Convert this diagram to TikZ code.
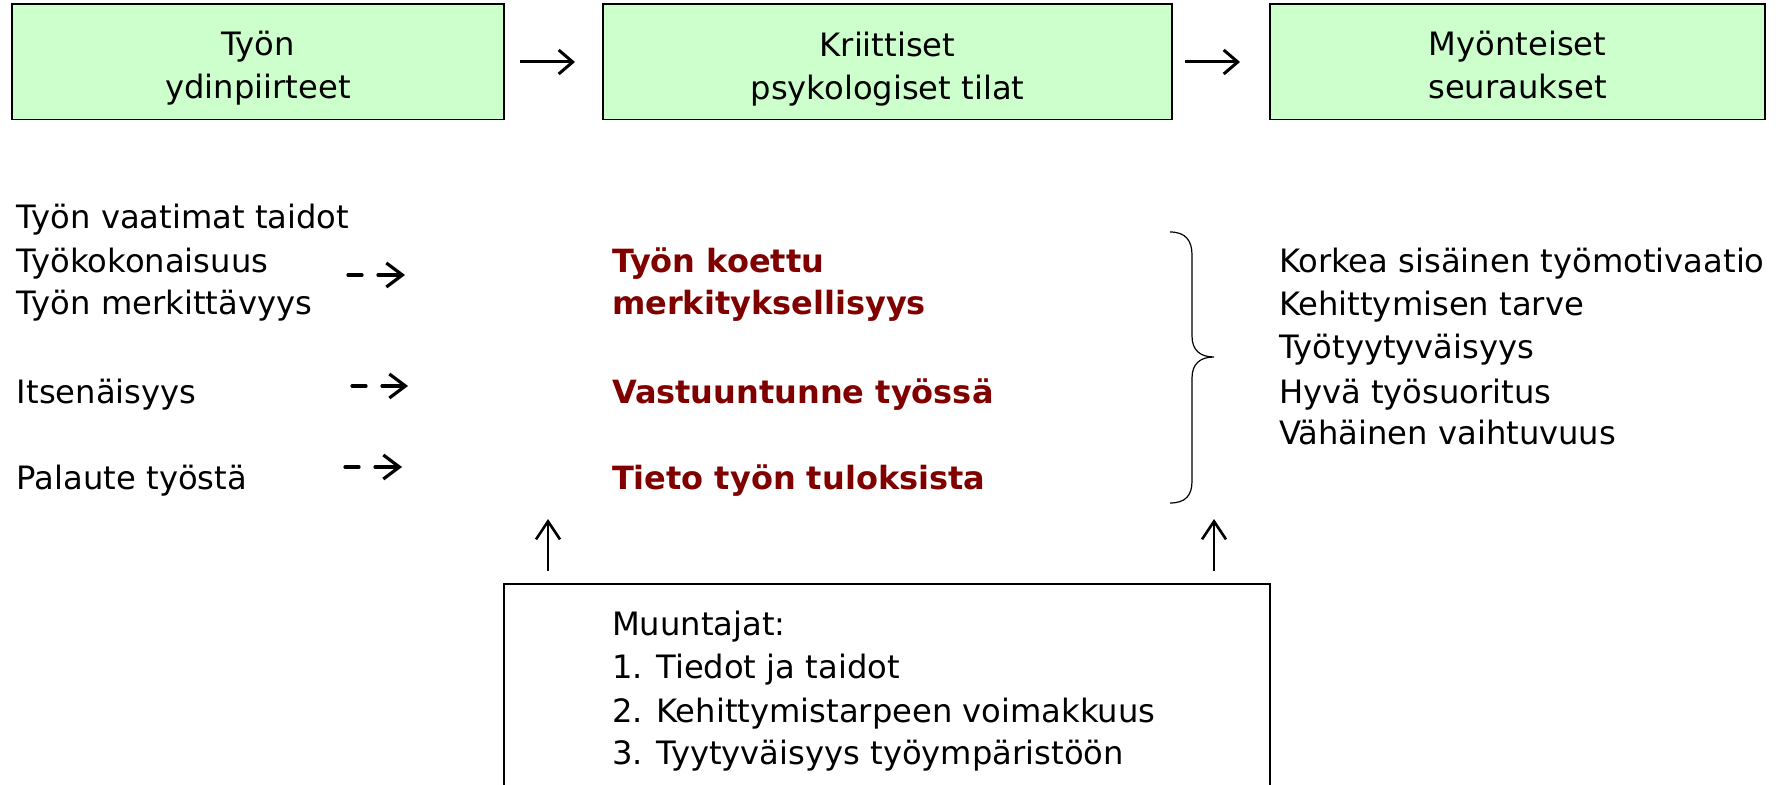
\documentclass[tikz,border=0pt]{standalone}
\usepackage{fontspec}
\setmainfont{DejaVu Sans}
\usetikzlibrary{arrows.meta}
\definecolor{boxgreen}{RGB}{204,255,204}
\definecolor{darkred}{RGB}{128,0,0}
\begin{document}
\begin{tikzpicture}[x=0.5pt,y=-0.5pt,
  every node/.style={inner sep=0pt,outer sep=0pt,font=\fontsize{16.1}{21.5}\selectfont},
  topbox/.style={draw=black,line width=0.75pt,fill=boxgreen,rectangle,minimum height=57.75pt},
  boxtext/.style={align=center},
  item/.style={anchor=base west},
  reditem/.style={anchor=base west,text=darkred,font=\fontsize{16}{21.5}\selectfont\bfseries},
  mainarrow/.style={line width=1.5pt,-{Straight Barb[length=7pt,width=12pt,line width=1.5pt]}},
  dasharrow/.style={line width=1.6pt,line cap=round,dash pattern=on 7pt off 8pt on 20pt,-{Straight Barb[length=8pt,width=12pt,line width=1.6pt]}},
  uparrow/.style={line width=1.3pt,-{Straight Barb[length=9pt,width=12pt,line width=1.3pt]}},
  bracestyle/.style={line width=0.6pt}]
\useasboundingbox (0,0) rectangle (1776,785);
% top boxes
\node[topbox,minimum width=246pt] (b1) at (258,62) {};
\node[topbox,minimum width=284.5pt] (b2) at (887.5,62) {};
\node[topbox,minimum width=247.5pt] (b3) at (1517.5,62) {};
\node[boxtext] (t1) at (258,68.4) {Työn\\ydinpiirteet};
\node[boxtext] (t2) at (887.5,68.9) {Kriittiset\\psykologiset tilat};
\node[boxtext] (t3) at (1517.5,64.7) {Myönteiset\\seuraukset};
\draw[mainarrow,shorten <=8pt,shorten >=14pt] (b1.east) -- (b2.west);
\draw[mainarrow,shorten <=6.5pt,shorten >=15pt] (b2.east) -- (b3.west);
% left list
\node[item] (l1) at (17,229) {Työn vaatimat taidot};
\node[item] (l2) at (17,273) {Työkokonaisuus};
\node[item] (l3) at (17,315) {Työn merkittävyys};
\node[item] (l4) at (17,404) {Itsenäisyys};
\node[item] (l5) at (17,490) {Palaute työstä};
% dashed arrows
\coordinate (d1a) at (348,275); \coordinate (d1b) at (405,275);
\coordinate (d2a) at (352,386); \coordinate (d2b) at (408,386);
\coordinate (d3a) at (345,467); \coordinate (d3b) at (402,467);
\draw[dasharrow] (d1a) -- (d1b);
\draw[dasharrow] (d2a) -- (d2b);
\draw[dasharrow] (d3a) -- (d3b);
% red items
\node[reditem] (r1) at (612,273) {Työn koettu};
\node[reditem] (r1b) at (612,315) {merkityksellisyys};
\node[reditem] (r2) at (612,404) {Vastuuntunne työssä};
\node[reditem] (r3) at (612,490) {Tieto työn tuloksista};
% brace
\draw[bracestyle] (1170,232) .. controls (1186,232) and (1192,241) .. (1192,255)
  -- (1192,336) .. controls (1192,350) and (1200,357) .. (1214,357)
  .. controls (1200,357) and (1192,364) .. (1192,378)
  -- (1192,481) .. controls (1192,495) and (1186,503) .. (1170,503);
% right list
\node[item] (o1) at (1279,273) {Korkea sisäinen työmotivaatio};
\node[item] (o2) at (1279,316) {Kehittymisen tarve};
\node[item] (o3) at (1279,359) {Työtyytyväisyys};
\node[item] (o4) at (1279,404) {Hyvä työsuoritus};
\node[item] (o5) at (1279,445) {Vähäinen vaihtuvuus};
% bottom box
\draw[line width=0.75pt] (504,790) -- (504,584) -- (1270,584) -- (1270,790);
\node[item] (m0) at (612,635) {Muuntajat:};
\node[item] (m1) at (612,678) {1. Tiedot ja taidot};
\node[item] (m2) at (612,722) {2. Kehittymistarpeen voimakkuus};
\node[item] (m3) at (612,764) {3. Tyytyväisyys työympäristöön};
% up arrows
\coordinate (u1a) at (548,571); \coordinate (u1b) at (548,519);
\coordinate (u2a) at (1214,571); \coordinate (u2b) at (1214,519);
\draw[uparrow] (u1a) -- (u1b);
\draw[uparrow] (u2a) -- (u2b);
\end{tikzpicture}
\end{document}
